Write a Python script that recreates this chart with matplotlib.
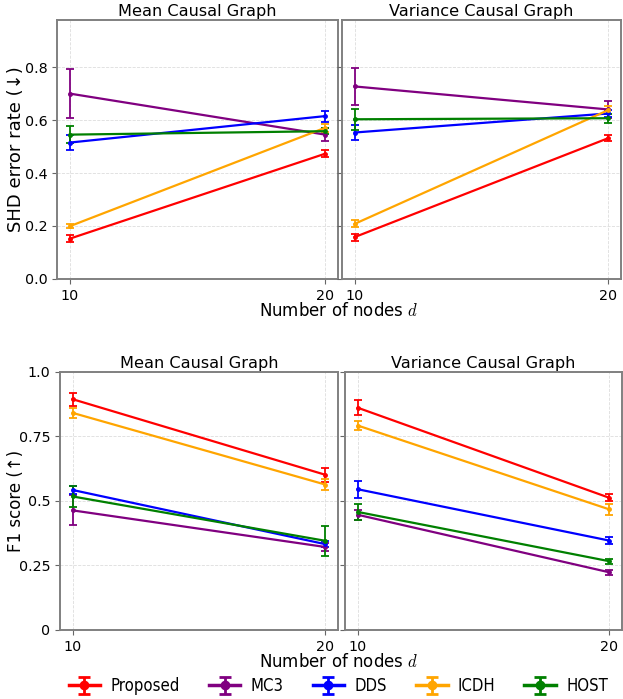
import matplotlib

matplotlib.use("Agg")
import matplotlib.pyplot as plt

plt.rcParams["mathtext.fontset"] = "cm"

nodes = [10, 20]
methods = ["Proposed", "MC3", "DDS", "ICDH", "HOST"]
colors = ["red", "purple", "blue", "orange", "green"]

# SHD error rate, mean causal graph
shd_mean = {
    "Proposed": [0.152, 0.473],
    "MC3": [0.700, 0.545],
    "DDS": [0.515, 0.615],
    "ICDH": [0.199, 0.571],
    "HOST": [0.545, 0.558],
}
shd_mean_err = {
    "Proposed": [0.012, 0.014],
    "MC3": [0.093, 0.025],
    "DDS": [0.029, 0.021],
    "ICDH": [0.008, 0.015],
    "HOST": [0.033, 0.012],
}
# SHD error rate, variance causal graph
shd_var = {
    "Proposed": [0.158, 0.532],
    "MC3": [0.727, 0.640],
    "DDS": [0.553, 0.625],
    "ICDH": [0.208, 0.638],
    "HOST": [0.603, 0.607],
}
shd_var_err = {
    "Proposed": [0.013, 0.012],
    "MC3": [0.071, 0.031],
    "DDS": [0.030, 0.012],
    "ICDH": [0.013, 0.015],
    "HOST": [0.040, 0.017],
}
# F1 score, mean causal graph
f1_mean = {
    "Proposed": [0.894, 0.601],
    "MC3": [0.463, 0.321],
    "DDS": [0.542, 0.332],
    "ICDH": [0.841, 0.563],
    "HOST": [0.517, 0.345],
}
f1_mean_err = {
    "Proposed": [0.026, 0.027],
    "MC3": [0.058, 0.017],
    "DDS": [0.017, 0.012],
    "ICDH": [0.020, 0.021],
    "HOST": [0.040, 0.058],
}
# F1 score, variance causal graph
f1_var = {
    "Proposed": [0.861, 0.512],
    "MC3": [0.446, 0.223],
    "DDS": [0.545, 0.346],
    "ICDH": [0.792, 0.467],
    "HOST": [0.457, 0.266],
}
f1_var_err = {
    "Proposed": [0.030, 0.014],
    "MC3": [0.020, 0.010],
    "DDS": [0.033, 0.014],
    "ICDH": [0.018, 0.020],
    "HOST": [0.030, 0.010],
}

shd_ticks = [0.0, 0.2, 0.4, 0.6, 0.8]
shd_ticklabels = ["0.0", "0.2", "0.4", "0.6", "0.8"]
f1_ticks = [0, 0.25, 0.5, 0.75, 1.0]
f1_ticklabels = ["0", "0.25", "0.5", "0.75", "1.0"]


def draw_panel(ax, vals, errs, title):
    for m, c in zip(methods, colors):
        ax.errorbar(nodes, vals[m], yerr=errs[m], color=c, marker="o", markersize=2.5,
                    linewidth=1.6, capsize=3, elinewidth=1.3, capthick=1.3, label=m)
    ax.set_title(title, fontsize=11.6, pad=3)
    ax.set_xticks(nodes)
    ax.set_xlim(9.5, 20.5)
    ax.grid(True, linestyle="--", linewidth=0.6, color="#dddddd")
    ax.tick_params(labelsize=10.3, color="#666666")
    for s in ax.spines.values():
        s.set_color("#808080")
        s.set_linewidth(1.4)


fig = plt.figure(figsize=(6.23, 6.99), dpi=100)

ax1 = fig.add_axes([0.0915, 0.601, 0.451, 0.370])
ax2 = fig.add_axes([0.549, 0.601, 0.448, 0.370], sharey=ax1)
ax3 = fig.add_axes([0.0963, 0.099, 0.4462, 0.369])
ax4 = fig.add_axes([0.554, 0.099, 0.444, 0.369], sharey=ax3)

draw_panel(ax1, shd_mean, shd_mean_err, "Mean Causal Graph")
draw_panel(ax2, shd_var, shd_var_err, "Variance Causal Graph")
draw_panel(ax3, f1_mean, f1_mean_err, "Mean Causal Graph")
draw_panel(ax4, f1_var, f1_var_err, "Variance Causal Graph")

ax1.set_ylim(0, 0.977)
ax1.set_yticks(shd_ticks)
ax1.set_yticklabels(shd_ticklabels)
ax1.set_ylabel("SHD error rate (↓)", fontsize=13)
ax3.set_ylim(0, 1.0)
ax3.set_yticks(f1_ticks)
ax3.set_yticklabels(f1_ticklabels)
ax3.set_ylabel("F1 score (↑)", fontsize=12)
for ax in (ax1, ax3):
    ax.yaxis.label.set_va("center")
    ax.yaxis.set_label_coords(16 / 623, 0.5, transform=fig.transFigure)
    ax.yaxis.label.set_y(ax.get_position().y0 + ax.get_position().height / 2)
for ax in (ax2, ax4):
    plt.setp(ax.get_yticklabels(), visible=False)

fig.text(0.543, 1 - 311 / 699, "Number of nodes $d$", ha="center", va="center", fontsize=12)
fig.text(0.543, 1 - 662 / 699, "Number of nodes $d$", ha="center", va="center", fontsize=12)

# proxy handles for the legend, drawn bigger than the plot markers
lax = fig.add_axes([0, 0, 0.01, 0.01])
lax.set_visible(False)
handles = []
for m, c in zip(methods, colors):
    h = lax.errorbar([0], [0], yerr=[1], color=c, marker="o", markersize=6,
                     linewidth=2.5, capsize=4, elinewidth=2, capthick=2, label=m)
    handles.append(h)

fig.legend(handles, methods, loc="center", bbox_to_anchor=(0.543, 1 - 686 / 699), ncol=5,
           frameon=False, handlelength=1.9, handletextpad=0.6, columnspacing=1.75,
           prop={"family": ["DejaVu Sans"], "stretch": "condensed", "size": 12})

fig.savefig("out.png", dpi=100)
